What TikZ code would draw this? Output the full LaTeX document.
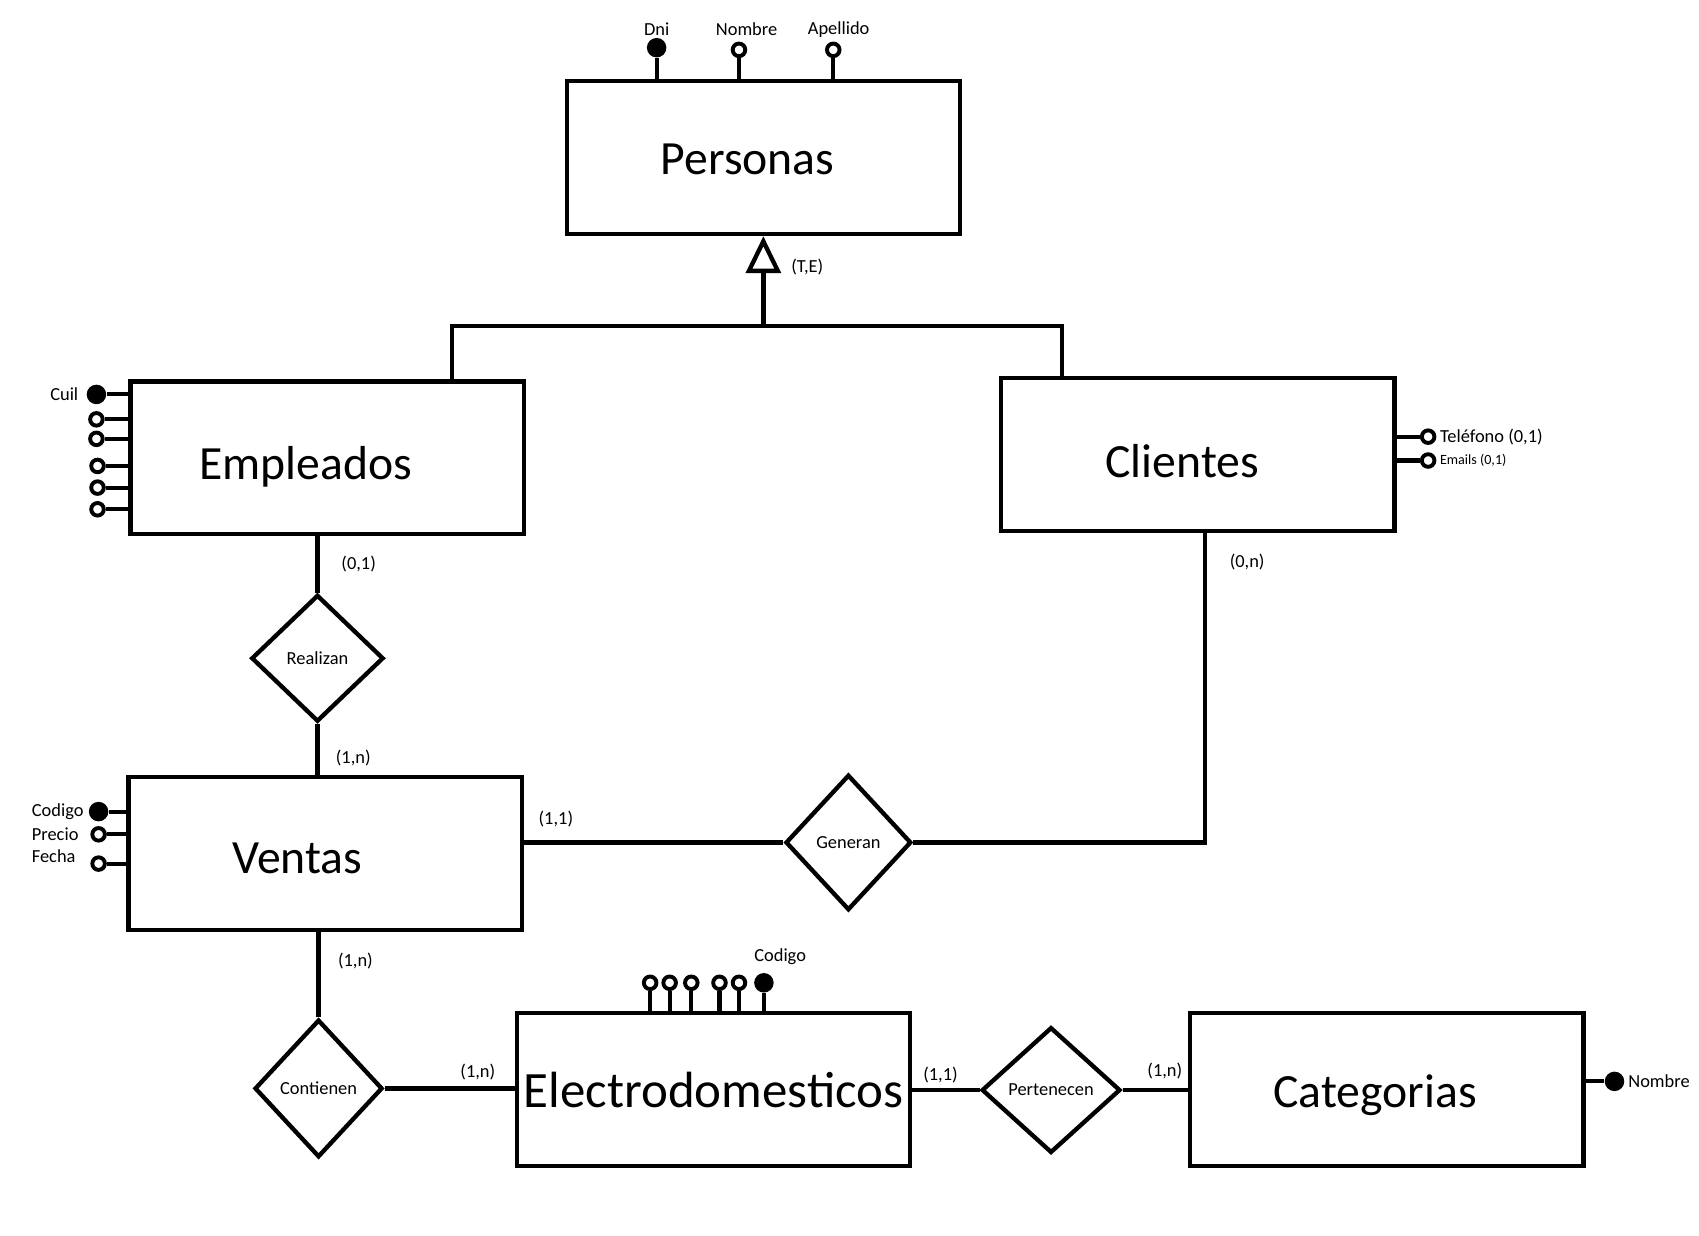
\documentclass[tikz,border=0pt]{standalone}
\usepackage{fontspec}
\setmainfont{Carlito}
\usetikzlibrary{arrows.meta,shapes.geometric,positioning}

\tikzset{
  entity/.style={draw, line width=2pt, minimum width=181.5pt, minimum height=70.5pt,
    inner sep=0pt, font=\fontsize{22}{26}\selectfont},
  entname/.style={inner sep=0pt, font=\fontsize{22}{26}\selectfont},
  relation/.style={diamond, draw, line width=2pt, inner sep=0pt, aspect=1,
    font=\fontsize{8.5}{10}\selectfont},
  card/.style={inner sep=1pt, font=\fontsize{8.5}{10}\selectfont},
  keyattr/.style={circle, fill=black, minimum size=9pt, inner sep=0pt},
  attr/.style={circle, draw, fill=white, line width=1.8pt, minimum size=5.8pt, inner sep=0pt},
  stub/.style={line width=1.9pt},
  link/.style={line width=2pt},
}

\begin{document}
\begin{tikzpicture}[x=0.5pt, y=-0.5pt]
\fill[white, use as bounding box] (0,0) rectangle (1568,1140.6);

% entidades
\node[entity, label={[entname, xshift=-7.25pt, yshift=-0.75pt]center:Personas}] (personas) at (704.5,145.5) {};
\node[entity, label={[entname, xshift=-10pt, yshift=-4pt]center:Empleados}] (empleados) at (302,422.5) {};
\node[entity, label={[entname, xshift=-7.25pt, yshift=-3pt]center:Clientes}] (clientes) at (1105.5,419.5) {};
\node[entity, label={[entname, xshift=-12.75pt, yshift=-2.25pt]center:Ventas}] (ventas) at (300,787.5) {};
\node[entity, font=\fontsize{23.5}{27}\selectfont] (electro) at (658.5,1005.5) {Electrodomesticos};
\node[entity, label={[entname, xshift=-5.5pt, yshift=-2.75pt]center:Categorias}] (categorias) at (1280,1005.5) {};

% relaciones
\node[relation, minimum width=61pt, minimum height=58.5pt] (realizan)   at (293,607.5)  {Realizan};
\node[relation, minimum width=58pt, minimum height=62.5pt] (generan)    at (783,777.5)  {Generan};
\node[relation, minimum width=59pt, minimum height=63.5pt] (contienen)  at (294,1004.5) {Contienen};
\node[relation, minimum width=64pt, minimum height=58pt]   (pertenecen) at (970,1006)   {Pertenecen};

% jerarquia
\coordinate (isa) at (704.5,301);
\draw[link, -{Triangle[open, length=17pt, width=16pt]}] (isa) -- (personas.south);
\draw[link] ([xshift=57.5pt]empleados.north) |- (isa) -| ([xshift=-62.75pt]clientes.north);
\node[card] (te) at (745,246) {(T,E)};

% conexiones
\draw[link] (empleados.south -| realizan.north) -- (realizan.north);
\draw[link] (realizan.south) -- (realizan.south |- ventas.north);
\draw[link] (ventas.east |- generan.west) -- (generan.west);
\draw[link] (generan.east) -| ([xshift=3.25pt]clientes.south);
\draw[link] (ventas.south -| contienen.north) -- (contienen.north);
\draw[link] (contienen.east) -- (contienen.east -| electro.west);
\draw[link] (electro.east |- pertenecen.west) -- (pertenecen.west);
\draw[link] (pertenecen.east) -- (pertenecen.east -| categorias.west);

% cardinalidades
\node[card] at (331,521)  {(0,1)};
\node[card] at (326,700)  {(1,n)};
\node[card] at (513,756)  {(1,1)};
\node[card] at (1151,519) {(0,n)};
\node[card] at (328,887)  {(1,n)};
\node[card] at (441,989)  {(1,n)};
\node[card] at (868,992)  {(1,1)};
\node[card] at (1075,988) {(1,n)};

% atributos de Personas
\node[keyattr] (dni)      at (606,44) {};
\node[attr]    (nombre)   at (682,46) {};
\node[attr]    (apellido) at (769,46) {};
\draw[stub] (dni) -- (dni |- personas.north);
\draw[stub] (nombre) -- (nombre |- personas.north);
\draw[stub] (apellido) -- (apellido |- personas.north);
\node[card] at (606,27) {Dni};
\node[card] at (689,27) {Nombre};
\node[card] at (774,27) {Apellido};

% atributos de Empleados
\node[keyattr] (cuil) at (89,364) {};
\node[attr] (emp1) at (89,387) {};
\node[attr] (emp2) at (89,405) {};
\node[attr] (emp3) at (90,430) {};
\node[attr] (emp4) at (90,450) {};
\node[attr] (emp5) at (90,470) {};
\draw[stub] (cuil) -- (cuil -| empleados.west);
\draw[stub] (emp1) -- (emp1 -| empleados.west);
\draw[stub] (emp2) -- (emp2 -| empleados.west);
\draw[stub] (emp3) -- (emp3 -| empleados.west);
\draw[stub] (emp4) -- (emp4 -| empleados.west);
\draw[stub] (emp5) -- (emp5 -| empleados.west);
\node[card, left=2.5pt of cuil] {Cuil};

% atributos de Clientes
\node[attr] (telefono) at (1318,403) {};
\node[attr] (emails)   at (1318,425) {};
\draw[stub] (telefono) -- (telefono -| clientes.east);
\draw[stub] (emails) -- (emails -| clientes.east);
\node[card, right=0.5pt of telefono] {Teléfono (0,1)};
\node[card, right=0.5pt of emails, font=\fontsize{6.5}{8}\selectfont] {Emails (0,1)};

% atributos de Ventas
\node[keyattr] (codven) at (91,749) {};
\node[attr]    (precio) at (91,770) {};
\node[attr]    (fecha)  at (91,797) {};
\draw[stub] (codven) -- (codven -| ventas.west);
\draw[stub] (precio) -- (precio -| ventas.west);
\draw[stub] (fecha) -- (fecha -| ventas.west);
\node[card, anchor=west] at (27,749) {Codigo};
\node[card, anchor=west] at (27,770) {Precio};
\node[card, anchor=west] at (27,790) {Fecha};

% atributos de Electrodomesticos
\node[attr] (ele1) at (600,907) {};
\node[attr] (ele2) at (618,907) {};
\node[attr] (ele3) at (638,907) {};
\node[attr] (ele4) at (664,907) {};
\node[attr] (ele5) at (682,907) {};
\node[keyattr] (codele) at (705,907) {};
\draw[stub] (ele1) -- (ele1 |- electro.north);
\draw[stub] (ele2) -- (ele2 |- electro.north);
\draw[stub] (ele3) -- (ele3 |- electro.north);
\draw[stub] (ele4) -- (ele4 |- electro.north);
\draw[stub] (ele5) -- (ele5 |- electro.north);
\draw[stub] (codele) -- (codele |- electro.north);
\node[card] at (720,883) {Codigo};

% atributos de Categorias
\node[keyattr] (nomcat) at (1490,998) {};
\draw[stub] (nomcat) -- (nomcat -| categorias.east);
\node[card, right=0.5pt of nomcat] {Nombre};
\end{tikzpicture}
\end{document}
